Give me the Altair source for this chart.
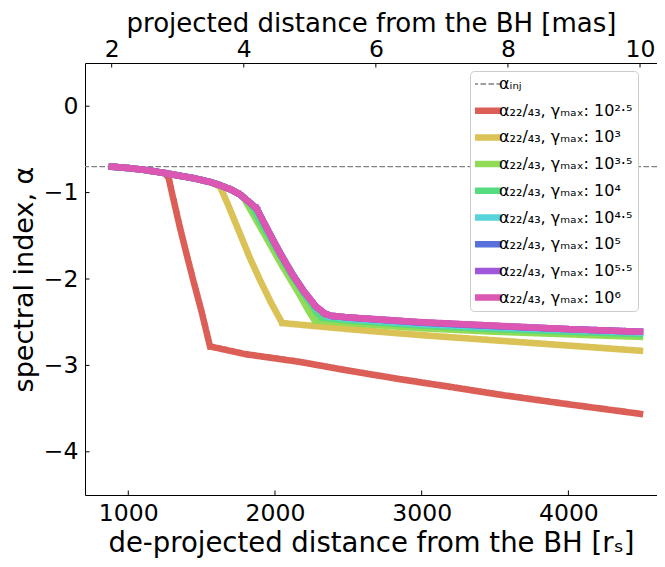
import altair as alt
import pandas as pd

# ---------------- data ----------------
x_ticks_rs = [1000, 2000, 3000, 4000]
x_ticks_mas = [2, 4, 6, 8, 10]
y_ticks = [0, -1, -2, -3, -4]
alpha_inj = -0.7
inj_label = "αᵢₙⱼ"

gamma_max = ["10²·⁵", "10³", "10³·⁵", "10⁴", "10⁴·⁵", "10⁵", "10⁵·⁵", "10⁶"]
colors = ["#db5f57", "#dbc257", "#91db57", "#57db80",
          "#57d3db", "#5770db", "#a157db", "#db57b2"]

r_25 = [888, 1000, 1100, 1200, 1250, 1275, 1300, 1350, 1400, 1450, 1500, 1557,
        1800, 2172, 2500, 2854, 3200, 3536, 4000, 4488]
a_25 = [-0.700, -0.716, -0.735, -0.760, -0.775, -0.830, -1.020, -1.390, -1.730,
        -2.060, -2.380, -2.780, -2.870, -2.960, -3.060, -3.160, -3.250, -3.340,
        -3.450, -3.560]

r_30 = [888, 1000, 1100, 1200, 1262, 1350, 1450, 1557, 1625, 1680, 1750, 1830,
        1900, 1975, 2049, 2500, 3000, 3500, 4000, 4488]
a_30 = [-0.700, -0.716, -0.735, -0.760, -0.778, -0.805, -0.835, -0.877, -0.930,
        -1.140, -1.430, -1.760, -2.020, -2.280, -2.510, -2.580, -2.650, -2.710,
        -2.770, -2.830]

r_35 = [888, 1000, 1100, 1200, 1262, 1350, 1450, 1557, 1625, 1700, 1760, 1790,
        1850, 1950, 2050, 2150, 2230, 2270, 2500, 3000, 3500, 4000, 4488]
a_35 = [-0.700, -0.716, -0.735, -0.760, -0.778, -0.805, -0.835, -0.877, -0.915,
        -0.965, -1.020, -1.070, -1.250, -1.550, -1.850, -2.130, -2.370, -2.480,
        -2.510, -2.570, -2.610, -2.640, -2.670]

r_40 = [888, 1000, 1100, 1200, 1262, 1350, 1450, 1557, 1625, 1700, 1760, 1807,
        1840, 1900, 2000, 2100, 2200, 2290, 2320, 2500, 3000, 3500, 4000, 4488]
a_40 = [-0.700, -0.716, -0.735, -0.760, -0.778, -0.805, -0.835, -0.877, -0.915,
        -0.965, -1.020, -1.085, -1.150, -1.340, -1.630, -1.920, -2.180, -2.400,
        -2.450, -2.480, -2.540, -2.580, -2.610, -2.640]

r_45 = [888, 1000, 1100, 1200, 1262, 1350, 1450, 1557, 1625, 1700, 1760, 1807,
        1845, 1875, 1950, 2034, 2120, 2200, 2280, 2360, 2500, 3000, 3500, 4000, 4488]
a_45 = [-0.700, -0.716, -0.735, -0.760, -0.778, -0.805, -0.835, -0.877, -0.915,
        -0.965, -1.020, -1.085, -1.140, -1.185, -1.430, -1.690, -1.940, -2.150,
        -2.330, -2.430, -2.460, -2.520, -2.560, -2.590, -2.620]

r_50 = [888, 1000, 1100, 1200, 1262, 1350, 1450, 1557, 1625, 1700, 1760, 1807,
        1845, 1875, 1950, 2034, 2120, 2200, 2280, 2340, 2380, 2500, 3000, 3500, 4000, 4488]
a_50 = [-0.700, -0.716, -0.735, -0.760, -0.778, -0.805, -0.835, -0.877, -0.915,
        -0.965, -1.020, -1.085, -1.140, -1.185, -1.430, -1.700, -1.950, -2.150,
        -2.320, -2.400, -2.425, -2.445, -2.505, -2.545, -2.580, -2.610]

r_55 = [888, 1000, 1100, 1200, 1262, 1350, 1450, 1557, 1625, 1700, 1760, 1807,
        1845, 1875, 1950, 2034, 2120, 2200, 2280, 2340, 2380, 2500, 3000, 3500, 4000, 4488]
a_55 = [-0.700, -0.716, -0.735, -0.760, -0.778, -0.805, -0.835, -0.877, -0.915,
        -0.965, -1.020, -1.085, -1.140, -1.185, -1.430, -1.700, -1.950, -2.150,
        -2.320, -2.400, -2.425, -2.445, -2.502, -2.542, -2.580, -2.610]

r_60 = [888, 1000, 1100, 1200, 1262, 1350, 1450, 1557, 1625, 1700, 1760, 1807,
        1845, 1875, 1950, 2034, 2120, 2200, 2280, 2340, 2380, 2500, 3000, 3500, 4000, 4488]
a_60 = [-0.700, -0.716, -0.735, -0.760, -0.778, -0.805, -0.835, -0.877, -0.915,
        -0.965, -1.020, -1.085, -1.140, -1.185, -1.430, -1.700, -1.950, -2.150,
        -2.320, -2.400, -2.425, -2.445, -2.500, -2.540, -2.580, -2.610]

series = [(r_25, a_25), (r_30, a_30), (r_35, a_35), (r_40, a_40),
          (r_45, a_45), (r_50, a_50), (r_55, a_55), (r_60, a_60)]

# ---------------- tables ----------------
series_labels = ["α₂₂/₄₃, γₘₐₓ: " + g for g in gamma_max]
rows = []
for i, (lab, (rs, als)) in enumerate(zip(series_labels, series)):
    for r, a in zip(rs, als):
        rows.append({"label": lab, "idx": i, "r": r, "alpha": a})
df = pd.DataFrame(rows)
df_inj = pd.DataFrame({"label": [inj_label], "alpha": [alpha_inj]})

all_labels = [inj_label] + series_labels

# ---------------- layout ----------------
W, H = 572, 432
FONT = "DejaVu Sans"
xscale = alt.Scale(domain=[705, 4604], nice=False, zero=False)
yscale = alt.Scale(domain=[-4.5, 0.5], nice=False, zero=False)
top_scale = alt.Scale(domain=[1.596, 10.257], nice=False, zero=False)
color_scale = alt.Scale(domain=all_labels, range=["#808080"] + colors)
dash_scale = alt.Scale(domain=all_labels, range=[[5.5, 2.5]] + [[1, 0]] * 8)

legend = alt.Legend(
    orient="none", legendX=385, legendY=8,
    symbolType="stroke", symbolSize=1369, clipHeight=16, rowPadding=10.7,
    symbolStrokeWidth=alt.ExprRef(expr="datum.index === 0 ? 1.3 : 6.5"),
    labelFontSize=16, labelFont=FONT, labelColor="black", labelOffset=8,
    labelLimit=300, padding=5, fillColor="white", strokeColor="#cccccc",
    cornerRadius=4,
)

common_axis = dict(
    ticks=False, tickSize=0, grid=False, domainColor="black", domainWidth=1,
    labelFontSize=23.5, labelFont=FONT, titleFont=FONT,
    labelColor="black", titleColor="black", titleFontWeight="normal",
)
x_axis = alt.Axis(orient="bottom", values=x_ticks_rs, format="d",
                  title="de-projected distance from the BH [rₛ]",
                  titleFontSize=27.5, labelPadding=6, titlePadding=5, **common_axis)
y_axis = alt.Axis(orient="left", values=y_ticks, title="spectral index, α",
                  titleFontSize=27, labelPadding=7, titlePadding=5, **common_axis)
top_axis = alt.Axis(orient="top", values=x_ticks_mas,
                    title="projected distance from the BH [mas]",
                    titleFontSize=26, labelPadding=1.5,
                    titleBaseline="alphabetic", titleY=-31.5,
                    **common_axis)

inj = alt.Chart(df_inj).mark_rule(strokeWidth=1.3).encode(
    y=alt.Y("alpha:Q", scale=yscale, axis=y_axis),
    color=alt.Color("label:N", scale=color_scale, legend=legend, title=None),
    strokeDash=alt.StrokeDash("label:N", scale=dash_scale, title=None),
)

lines = alt.Chart(df).mark_line(strokeWidth=6.5, strokeCap="square", strokeJoin="round").encode(
    x=alt.X("r:Q", scale=xscale, axis=x_axis),
    y=alt.Y("alpha:Q", scale=yscale, axis=y_axis),
    color=alt.Color("label:N", scale=color_scale, legend=legend, title=None),
    strokeDash=alt.StrokeDash("label:N", scale=dash_scale, title=None),
)

ticks_bottom = alt.Chart(pd.DataFrame({"r": x_ticks_rs})).mark_rule(
    color="black", strokeWidth=1).encode(
    x=alt.X("r:Q", scale=xscale, axis=None),
    y=alt.value(H), y2=alt.value(H - 4.5),
)
ticks_left = alt.Chart(pd.DataFrame({"alpha": y_ticks})).mark_rule(
    color="black", strokeWidth=1).encode(
    y=alt.Y("alpha:Q", scale=yscale, axis=y_axis),
    x=alt.value(0), x2=alt.value(4.5),
)
ticks_top = alt.Chart(pd.DataFrame({"mas": x_ticks_mas})).mark_rule(
    color="black", strokeWidth=1).encode(
    x=alt.X("mas:Q", scale=top_scale, axis=top_axis),
    y=alt.value(0), y2=alt.value(4.5),
)

chart = alt.layer(inj, lines, ticks_bottom, ticks_left, ticks_top).resolve_scale(
    x="independent"
).properties(
    width=W, height=H,
    padding={"left": 77, "top": 55, "right": 0, "bottom": 70},
    autosize=alt.AutoSizeParams(type="none"),
).configure(font=FONT).configure_view(stroke=None)

chart.save("out.html", embed_options={"renderer": "svg", "actions": False})
